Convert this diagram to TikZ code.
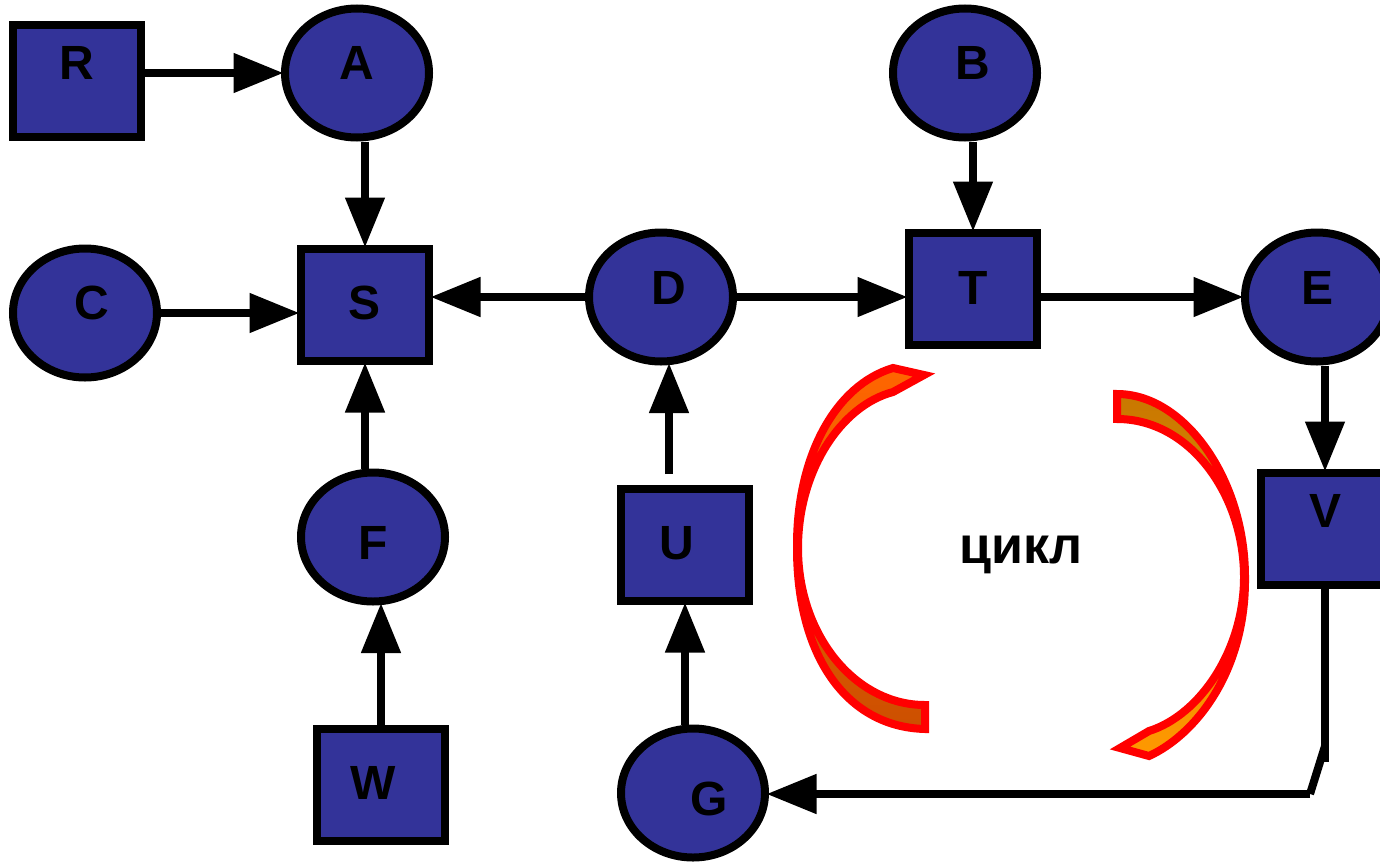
\documentclass[tikz,border=0pt]{standalone}
\usepackage{fontspec}
\setmainfont{Liberation Sans}
\usetikzlibrary{arrows.meta,shapes.geometric}
\definecolor{blockblue}{HTML}{333399}
\definecolor{leftlight}{HTML}{FF6600}
\definecolor{leftdark}{HTML}{CC5000}
\definecolor{rightdark}{HTML}{C87800}
\definecolor{rightlight}{HTML}{FF9900}
\tikzset{
    place/.style={ellipse,draw=black,line width=8pt,fill=blockblue,minimum width=144pt,minimum height=129pt,inner sep=0pt},
    block/.style={rectangle,draw=black,line width=8pt,fill=blockblue,minimum width=128pt,minimum height=112pt,inner sep=0pt},
    letter/.style={inner sep=0pt,font=\fontsize{48}{48}\selectfont\bfseries},
    link/.style={line width=8pt,shorten >=-2.5pt,-{Triangle[length=50pt,width=38pt]}},
    plain/.style={line width=8pt},
    crescent/.style={draw=red,line width=8pt,miter limit=10}
}
\begin{document}
\begin{tikzpicture}[x=1pt,y=-1pt]
        \useasboundingbox (0,0) rectangle (1380,862);
        % round nodes
        \foreach \x/\y/\n/\l/\j/\k in {357/73/A/A/357/63,965/73/B/B/973/63,85/313/C/C/92/303,661/297/D/D/669/288,1317/297/E/E/1317/288,373/537/F/F/373/543,693/793/G/G/709/799}{
            \node[place] (\n) at (\x,\y) {};
            \node[letter] (l\n) at (\j,\k) {\l};
        }
        % square nodes
        \foreach \x/\y/\n/\l/\j/\k in {77/81/R/R/77/63,365/305/S/S/365/303,973/289/T/T/973/288,685/545/U/U/677/543,1325/529/V/V/1325/511,381/785/W/W/373/783}{
            \node[block] (\n) at (\x,\y) {};
            \node[letter] (l\n) at (\j,\k) {\l};
        }
        \coordinate (utail) at (669,474);
        \coordinate (vend) at (1325,762);
        \coordinate (bendtop) at (1325,746);
        \coordinate (bendlow) at (1310,794);
        % arrows
        \draw[link] (R.east |- A.west) -- (A.west);
        \draw[link] (S.north |- A.south) -- (S.north);
        \draw[link] (C.east) -- (C.east -| S.west);
        \draw[link] (D.west) -- (D.west -| S.east);
        \draw[link] (D.east) -- (D.east -| T.west);
        \draw[link] (E.west -| T.east) -- (E.west);
        \draw[link] (T.north |- B.south) -- (T.north);
        \draw[link] (V.north |- E.south) -- (V.north);
        \draw[link] (S.south |- F.north) -- (S.south);
        \draw[link] (W.north) -- (W.north |- F.south);
        \draw[link] (utail) -- (utail |- D.south);
        \draw[link] (U.south |- G.north) -- (U.south);
        \draw[plain] (V.south) -- (vend);
        \draw[plain] (bendtop) -- (bendlow);
        \draw[link] (bendlow) -- (bendlow -| G.east);
        % cycle
        \path[crescent,top color=leftlight,bottom color=leftdark] (893,368) -- (924,375) -- (893,392)
            .. controls (840,406) and (798,472) .. (798,548)
            .. controls (798,635) and (855,705) .. (925,705) -- (925,729)
            .. controls (846,727) and (796,655) .. (797,545)
            .. controls (797,455) and (836,385) .. (893,368) -- cycle;
        \path[crescent,top color=rightdark,bottom color=rightlight] (1117,394)
            .. controls (1185,394) and (1245,480) .. (1245,577)
            .. controls (1246,672) and (1195,735) .. (1149,756) -- (1120,748) -- (1149,731)
            .. controls (1200,715) and (1244,650) .. (1244,577)
            .. controls (1244,495) and (1190,419) .. (1117,419) -- cycle;
        \node[letter,font=\fontsize{52}{52}\selectfont\bfseries] (cycle) at (1021,555) {цикл};
    \end{tikzpicture}
\end{document}
